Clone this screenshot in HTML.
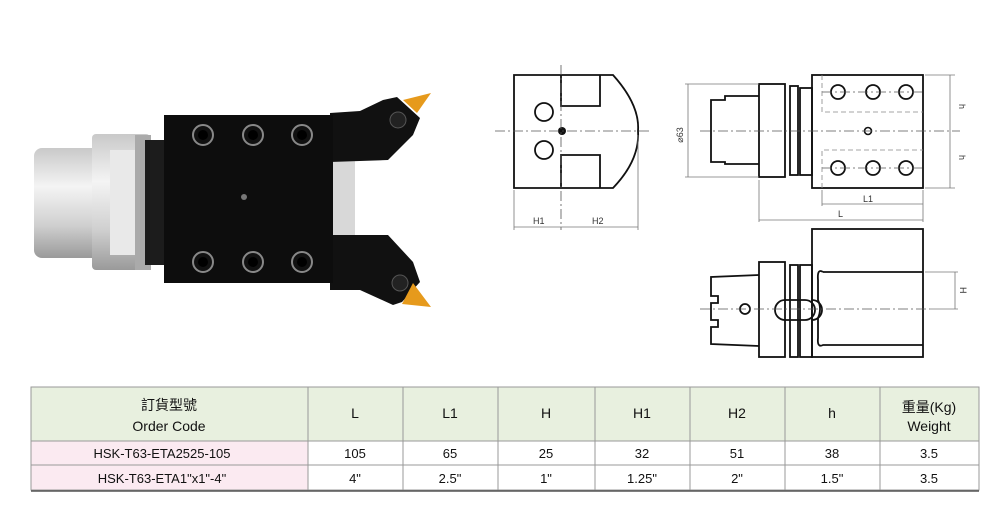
<!DOCTYPE html>
<html><head><meta charset="utf-8"><style>
body{margin:0;background:#fff;width:1000px;height:510px;overflow:hidden;font-family:"Liberation Sans","Noto Sans CJK TC",sans-serif}
svg{position:absolute;left:0;top:0}
</style></head><body>
<svg width="1000" height="510" viewBox="0 0 1000 510">
<defs>
<linearGradient id="sil" x1="0" y1="0" x2="0" y2="1">
<stop offset="0" stop-color="#c9c9c9"/><stop offset="0.35" stop-color="#f4f4f4"/><stop offset="0.7" stop-color="#d0d0d0"/><stop offset="1" stop-color="#9a9a9a"/></linearGradient>
</defs>
<!-- photo -->
<rect x="34" y="148" width="70" height="110" rx="8" fill="url(#sil)"/>
<rect x="92" y="134" width="58" height="136" rx="4" fill="url(#sil)"/>
<rect x="110" y="150" width="40" height="105" fill="#e9e9e9"/>
<rect x="135" y="135" width="16" height="135" fill="#aaa"/>
<rect x="145" y="140" width="22" height="125" fill="#1c1c1c"/>
<rect x="333" y="158" width="22" height="80" fill="#d8d8d8"/>
<polygon points="330,113 360,111 383,100 397,97 420,118 413,135 388,160 330,162" fill="#111"/>
<polygon points="330,235 388,235 413,262 420,282 402,302 393,305 360,290 330,290" fill="#111"/>
<polygon points="403,100 431,93 417,113" fill="#e69a1c"/>
<polygon points="413,283 431,307 402,304" fill="#e69a1c"/>
<circle cx="398" cy="120" r="8" fill="#222" stroke="#555"/>
<circle cx="400" cy="283" r="8" fill="#222" stroke="#555"/>
<rect x="164" y="115" width="169" height="168" fill="#0d0d0d"/>
<g fill="#111" stroke="#888" stroke-width="2">
<circle cx="203" cy="135" r="10"/><circle cx="253" cy="135" r="10"/><circle cx="302" cy="135" r="10"/>
<circle cx="203" cy="262" r="10"/><circle cx="253" cy="262" r="10"/><circle cx="302" cy="262" r="10"/>
</g>
<g fill="#000"><circle cx="203" cy="135" r="5"/><circle cx="253" cy="135" r="5"/><circle cx="302" cy="135" r="5"/><circle cx="203" cy="262" r="5"/><circle cx="253" cy="262" r="5"/><circle cx="302" cy="262" r="5"/></g>
<circle cx="244" cy="197" r="3" fill="#777"/>

<!-- drawings -->
<g fill="none" stroke="#111" stroke-width="1.8">
<path d="M514,75 H613 Q640,105 638,131 Q640,160 613,188 H514 Z"/>
<path d="M561,75 V106 H600 V75"/>
<path d="M561,188 V155 H600 V188"/>
<circle cx="544" cy="112" r="9"/><circle cx="544" cy="150" r="9"/>
<rect x="812" y="75" width="111" height="113"/>
<rect x="759" y="84" width="26" height="93"/>
<rect x="790" y="86" width="8" height="89"/>
<rect x="800" y="88" width="12" height="87"/>
<path d="M759,96 H725 V100 H711 V162 H725 V164 H759"/>
<g><circle cx="838" cy="92" r="7"/><circle cx="873" cy="92" r="7"/><circle cx="906" cy="92" r="7"/>
<circle cx="838" cy="168" r="7"/><circle cx="873" cy="168" r="7"/><circle cx="906" cy="168" r="7"/></g>
<rect x="812" y="229" width="111" height="128"/>
<rect x="759" y="262" width="26" height="95"/>
<rect x="790" y="265" width="8" height="92"/>
<rect x="800" y="265" width="12" height="92"/>
<path d="M759,275 L711,277 V296 H718 V303 H711 V320 H718 V327 H711 V344 L759,346"/>
<circle cx="745" cy="309" r="5"/>
<path d="M785,300 H805 A10,10 0 0 1 805,320 H785 A10,10 0 0 1 785,300 Z"/>
<path d="M812,300 A10,10 0 0 1 812,320"/>
<path d="M823,272 Q817,268 818,280 V300 Q822,309 818,318 V338 Q817,348 823,345 H923"/>
<path d="M823,272 H923"/>
</g>
<g fill="#111"><circle cx="562" cy="131" r="4"/></g>
<circle cx="868" cy="131" r="3.5" fill="none" stroke="#111" stroke-width="1.6"/>
<g stroke="#555" stroke-width="0.8" fill="none" stroke-dasharray="10,3,2,3">
<line x1="495" y1="131" x2="652" y2="131"/>
<line x1="561" y1="65" x2="561" y2="230"/>
<line x1="700" y1="131" x2="960" y2="131"/>
<line x1="700" y1="309" x2="930" y2="309"/>
<line x1="822" y1="92" x2="925" y2="92"/><line x1="822" y1="168" x2="925" y2="168"/>
</g>
<g stroke="#888" stroke-width="0.8" fill="none" stroke-dasharray="5,3">
<path d="M822,75 V112 H923"/><path d="M822,188 V150 H923"/>
</g>
<g stroke="#777" stroke-width="0.8" fill="none">
<line x1="514" y1="190" x2="514" y2="230"/><line x1="638" y1="135" x2="638" y2="230"/>
<line x1="514" y1="227" x2="638" y2="227"/>
<line x1="688" y1="84" x2="688" y2="177"/>
<line x1="685" y1="84" x2="759" y2="84"/><line x1="685" y1="177" x2="759" y2="177"/>
<line x1="925" y1="75" x2="955" y2="75"/><line x1="925" y1="188" x2="955" y2="188"/>
<line x1="950" y1="75" x2="950" y2="188"/>
<line x1="822" y1="190" x2="822" y2="206"/><line x1="923" y1="190" x2="923" y2="222"/>
<line x1="822" y1="204" x2="923" y2="204"/>
<line x1="759" y1="180" x2="759" y2="222"/>
<line x1="759" y1="220" x2="923" y2="220"/>
<line x1="925" y1="272" x2="958" y2="272"/><line x1="930" y1="309" x2="958" y2="309"/>
<line x1="955" y1="272" x2="955" y2="309"/>
</g>
<g font-family="Liberation Sans,sans-serif" font-size="9" fill="#333">
<text x="533" y="224">H1</text><text x="592" y="224">H2</text>
<text x="863" y="202">L1</text><text x="838" y="217">L</text>
<text x="683" y="135" transform="rotate(-90 683 135)" text-anchor="middle">⌀63</text>
<text x="959" y="104" transform="rotate(90 959 104)">h</text>
<text x="959" y="155" transform="rotate(90 959 155)">h</text>
<text x="960" y="287" transform="rotate(90 960 287)">H</text>
</g>

<rect x="31" y="387" width="948" height="54" fill="#e8f0df"/>
<rect x="31" y="441" width="277" height="49" fill="#fbeaf1"/>
<g stroke="#999" stroke-width="1" fill="none">
<rect x="31" y="387" width="948" height="103"/>
<line x1="31" y1="441" x2="979" y2="441"/><line x1="31" y1="465" x2="979" y2="465"/>
<line x1="308" y1="387" x2="308" y2="490"/><line x1="403" y1="387" x2="403" y2="490"/>
<line x1="498" y1="387" x2="498" y2="490"/><line x1="595" y1="387" x2="595" y2="490"/>
<line x1="690" y1="387" x2="690" y2="490"/><line x1="785" y1="387" x2="785" y2="490"/>
<line x1="880" y1="387" x2="880" y2="490"/>
</g>
<line x1="31" y1="491" x2="979" y2="491" stroke="#555" stroke-width="1.5"/>
<g font-size="14" fill="#111" text-anchor="middle">
<text x="169" y="410" font-family="Liberation Sans,Noto Sans CJK TC,sans-serif">訂貨型號</text>
<text x="169" y="431">Order Code</text>
<text x="355" y="418">L</text><text x="450" y="418">L1</text><text x="546" y="418">H</text>
<text x="642" y="418">H1</text><text x="737" y="418">H2</text><text x="832" y="418">h</text>
<text x="929" y="412" font-family="Liberation Sans,Noto Sans CJK TC,sans-serif">重量(Kg)</text>
<text x="929" y="431">Weight</text>
<g font-size="13">
<text x="162" y="458">HSK-T63-ETA2525-105</text>
<text x="355" y="458">105</text><text x="450" y="458">65</text><text x="546" y="458">25</text>
<text x="642" y="458">32</text><text x="737" y="458">51</text><text x="832" y="458">38</text><text x="929" y="458">3.5</text>
<text x="162" y="483">HSK-T63-ETA1"x1"-4"</text>
<text x="355" y="483">4"</text><text x="450" y="483">2.5"</text><text x="546" y="483">1"</text>
<text x="642" y="483">1.25"</text><text x="737" y="483">2"</text><text x="832" y="483">1.5"</text><text x="929" y="483">3.5</text>
</g></g>
</svg>
</body></html>
